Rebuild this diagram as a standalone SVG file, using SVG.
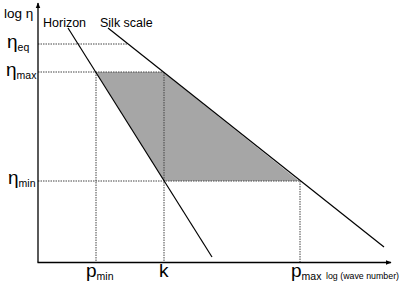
<svg xmlns="http://www.w3.org/2000/svg" width="415" height="288" viewBox="0 0 415 288">
<defs>
<marker id="arr" viewBox="0 0 10 10" refX="9" refY="5" markerWidth="6" markerHeight="6" orient="auto" markerUnits="userSpaceOnUse">
<path d="M0,1 L10,5 L0,9 z" fill="#000"/>
</marker>
<style>
text{font-family:"Liberation Sans",Arial,sans-serif;fill:#000}
.lab{font-size:12.5px}
.big{font-size:19px}
.sub{font-size:10.5px}
.sm{font-size:9.5px}
.axis{stroke:#000;stroke-width:1.3;fill:none}
.line{stroke:#000;stroke-width:1.2;fill:none}
.dot{stroke:#444;stroke-width:1;stroke-dasharray:1.5 1;fill:none}
</style>
</defs>
<g id="region">
<polygon points="96,72 163,72 299,181 164,181" fill="#a6a6a6"/>
</g>
<g id="connectors">
<line class="dot" x1="38" y1="44" x2="128" y2="44"/>
<line class="dot" x1="38" y1="72" x2="163" y2="72"/>
<line class="dot" x1="38" y1="181" x2="299" y2="181"/>
<line class="dot" x1="96" y1="72" x2="96" y2="262"/>
<line class="dot" x1="164" y1="72" x2="164" y2="262"/>
<line class="dot" x1="300" y1="181" x2="300" y2="262"/>
<line class="axis" x1="38" y1="262.5" x2="38" y2="3" marker-end="url(#arr)"/>
<line class="axis" x1="37.5" y1="262.5" x2="391" y2="262.5" marker-end="url(#arr)"/>
</g>
<g id="horizon">
<line class="line" x1="68" y1="28" x2="212" y2="257"/>
<text class="lab" x="43" y="27">Horizon</text>
</g>
<g id="silk">
<line class="line" x1="108" y1="28" x2="384" y2="247"/>
<text class="lab" x="100" y="27">Silk scale</text>
</g>
<g id="y-labels">
<text x="4" y="18" style="font-size:13.5px">log η</text>
<text x="7" y="48"><tspan class="big">η</tspan><tspan class="sub" dy="3">eq</tspan></text>
<text x="6" y="76"><tspan class="big">η</tspan><tspan class="sub" dy="3">max</tspan></text>
<text x="8" y="184"><tspan class="big">η</tspan><tspan class="sub" dy="3">min</tspan></text>
</g>
<g id="x-labels">
<text x="86" y="277"><tspan class="big">p</tspan><tspan class="sub" dy="3">min</tspan></text>
<text class="big" x="159" y="277">k</text>
<text x="291" y="277"><tspan class="big">p</tspan><tspan class="sub" dy="3">max</tspan></text>
<text class="sm" x="326" y="279" textLength="73" lengthAdjust="spacingAndGlyphs">log (wave number)</text>
</g>
</svg>
